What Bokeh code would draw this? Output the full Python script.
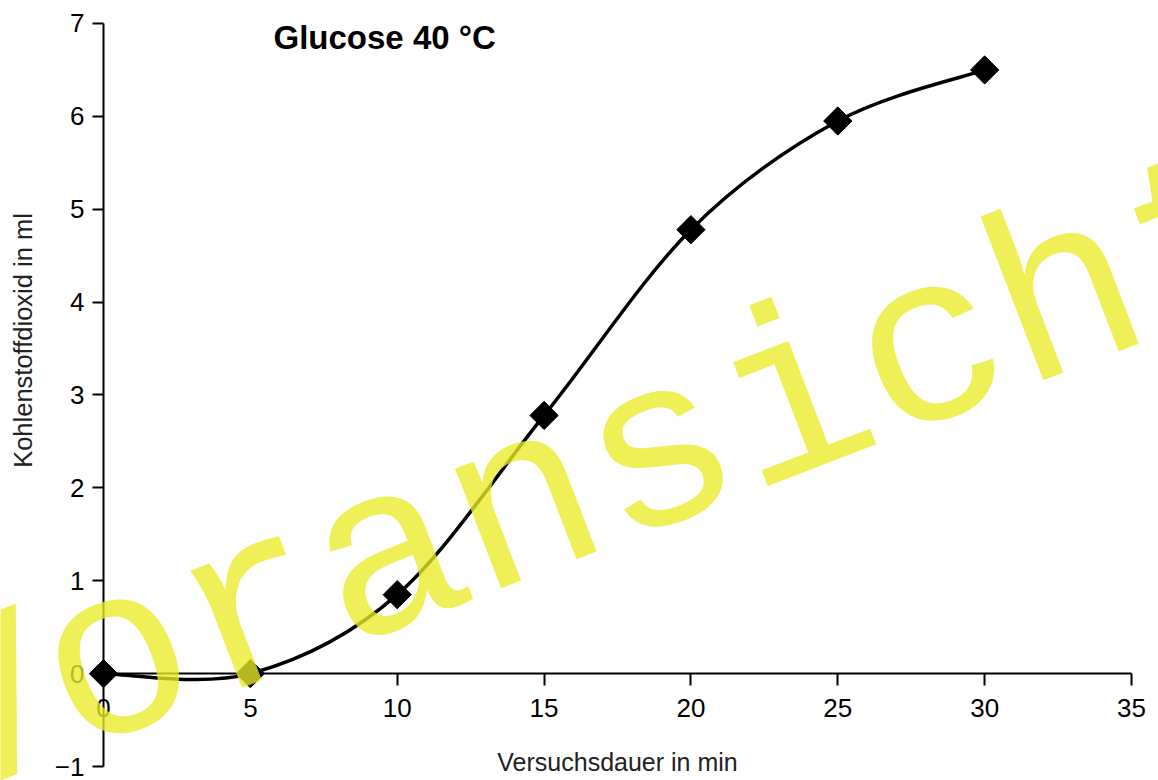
import numpy as np
from bokeh.plotting import figure
from bokeh.models import Range1d, Label, FixedTicker
from bokeh.embed import file_html
from bokeh.resources import INLINE

# ---- data ----
time_min = [0, 5, 10, 15, 20, 25, 30]
co2_ml = [0.0, 0.0, 0.85, 2.78, 4.78, 5.95, 6.5]
x_ticks = [0, 5, 10, 15, 20, 25, 30, 35]
y_ticks = [-1, 0, 1, 2, 3, 4, 5, 6, 7]
title_text = "Glucose 40 °C"
x_title = "Versuchsdauer in min"
y_title = "Kohlenstoffdioxid in ml"
watermark = "Voransicht"

W, H = 1158, 780
p = figure(width=W, height=H, output_backend="svg", toolbar_location=None,
           x_range=Range1d(-3.507, 35.919), y_range=Range1d(-1.1507, 7.2476),
           min_border=0, min_border_left=0, min_border_right=0,
           min_border_top=0, min_border_bottom=0)
p.outline_line_color = None
p.grid.visible = False
p.background_fill_color = "white"
p.border_fill_color = "white"

# ---- axes ----
xa = p.xaxis[0]
xa.fixed_location = 0
xa.bounds = (0, 35)
xa.ticker = FixedTicker(ticks=x_ticks)
xa.minor_tick_line_color = None
xa.major_tick_out = 12
xa.major_tick_in = 0
xa.major_tick_line_width = 2
xa.axis_line_width = 2
xa.major_label_standoff = 13
xa.major_label_text_font = "Liberation Sans"
xa.major_label_text_font_size = "26px"
xa.major_label_text_color = "black"
xa.axis_label = x_title
xa.axis_label_text_font = "Liberation Sans"
xa.axis_label_text_font_size = "25px"
xa.axis_label_text_font_style = "normal"
xa.axis_label_text_color = "#222222"
xa.axis_label_standoff = 28

ya = p.yaxis[0]
ya.fixed_location = 0
ya.bounds = (-1, 7)
ya.ticker = FixedTicker(ticks=y_ticks)
ya.major_label_overrides = {-1: "\u22121"}
ya.minor_tick_line_color = None
ya.major_tick_out = 11
ya.major_tick_in = 0
ya.major_tick_line_width = 2
ya.axis_line_width = 2
ya.major_label_standoff = 8
ya.major_label_text_font = "Liberation Sans"
ya.major_label_text_font_size = "26px"
ya.major_label_text_color = "black"

# ---- smooth curve (cardinal spline through the measured points) ----
xs = np.array(time_min, dtype=float)
ys = np.array(co2_ml, dtype=float)
n = len(xs)
x0, y0, x1, y1, cx0, cy0, cx1, cy1 = [], [], [], [], [], [], [], []
for i in range(n - 1):
    pxm = xs[i - 1] if i > 0 else xs[i]
    pym = ys[i - 1] if i > 0 else ys[i]
    pxp = xs[i + 2] if i + 2 < n else xs[i + 1]
    pyp = ys[i + 2] if i + 2 < n else ys[i + 1]
    x0.append(xs[i]); y0.append(ys[i])
    x1.append(xs[i + 1]); y1.append(ys[i + 1])
    cx0.append(xs[i] + (xs[i + 1] - pxm) / 6.0)
    cy0.append(ys[i] + (ys[i + 1] - pym) / 6.0)
    cx1.append(xs[i + 1] - (pxp - xs[i]) / 6.0)
    cy1.append(ys[i + 1] - (pyp - ys[i]) / 6.0)
p.bezier(x0=x0, y0=y0, x1=x1, y1=y1, cx0=cx0, cy0=cy0, cx1=cx1, cy1=cy1,
         line_color="black", line_width=3.5)

p.scatter(time_min, co2_ml, marker="square", size=20, angle=np.pi / 4,
          fill_color="black", line_color="black")

# ---- texts ----
p.add_layout(Label(x=273, y=743, x_units="screen", y_units="screen",
                   text=title_text, text_font="Liberation Sans",
                   text_font_size="33px", text_font_style="bold",
                   text_color="black", text_align="left",
                   text_baseline="alphabetic"))
p.add_layout(Label(x=22, y=440, x_units="screen", y_units="screen",
                   text=y_title, angle=np.pi / 2,
                   text_font="Liberation Sans",
                   text_font_size="25.5px", text_color="#222222",
                   text_align="center", text_baseline="middle"))

# ---- watermark ----
p.add_layout(Label(x=-85, y=36, x_units="screen", y_units="screen",
                   text=watermark, angle=0.3665,
                   text_font="Liberation Mono", text_font_size="242px",
                   text_color="#ebeb28", text_alpha=0.78,
                   text_align="left", text_baseline="alphabetic"))

open("out.html", "w").write(file_html(p, INLINE))
